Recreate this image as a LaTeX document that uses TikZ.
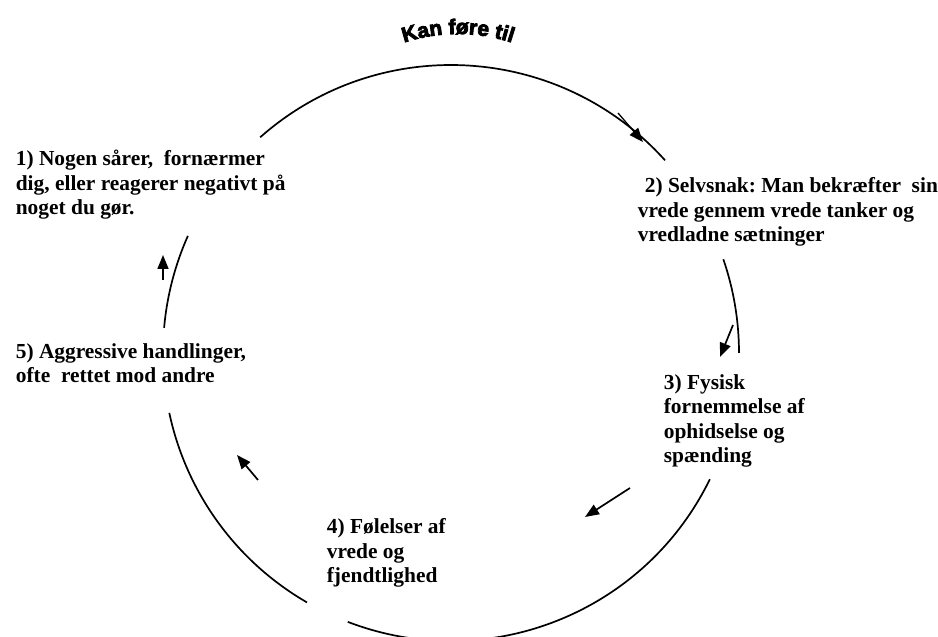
\documentclass[tikz,border=0pt]{standalone}
\usepackage{fontspec}
\setmainfont{Liberation Serif}
\newfontfamily\arcfont[FakeBold=4]{Liberation Sans Bold}
\usetikzlibrary{arrows.meta,decorations.text}

% anchored at the baseline of the last line
\tikzset{stage/.style={anchor=base west,align=left,inner sep=0pt,font=\fontsize{21.4}{24.6}\selectfont\bfseries\frenchspacing}}

\begin{document}
\begin{tikzpicture}[x=1pt,y=1pt,line width=1.7pt,>={Triangle[length=14pt,width=11pt]}]
\useasboundingbox (0,0) rectangle (938,637);
\coordinate (c) at (451,284);
% pieces of the circle
\foreach \a/\b in {131.5/42,19/0,-26/-111,192/240,175/156}
  \draw (c) ++(\a:288) arc[start angle=\a,end angle=\b,radius=288];
% title bent over the top
\path[decorate,decoration={text along path,text align=center,
  text={|\arcfont\fontsize{21}{21}\selectfont|Kan føre til}}]
  (458,431) ++(115:172) arc[start angle=115,end angle=65,radius=172];
\node[stage] (s1) at (15,422) {1) Nogen sårer,~ fornærmer\\dig, eller reagerer negativt på\\noget du gør.};
\node[stage] (s2) at (637,395) {\hspace*{7pt}2) Selvsnak: Man bekræfter~ sin\\vrede gennem vrede tanker og\\vredladne sætninger};
\node[stage] (s3) at (663,174) {3) Fysisk\\fornemmelse af\\ophidselse og\\spænding};
\node[stage] (s4) at (326,54) {4) Følelser af\\vrede og\\fjendtlighed};
\node[stage] (s5) at (15,254) {5) Aggressive handlinger,\\ofte~ rettet mod andre};
% arrows between the stages
\draw[->,line width=1.3pt] (618,524) -- (643,495);
\draw[->] (733,312) -- (720,280);
\draw[->] (630,149) -- (585,120);
\draw[->] (258,157) -- (237,182);
\draw[->] (163,357) -- (163,382);
\end{tikzpicture}
\end{document}
